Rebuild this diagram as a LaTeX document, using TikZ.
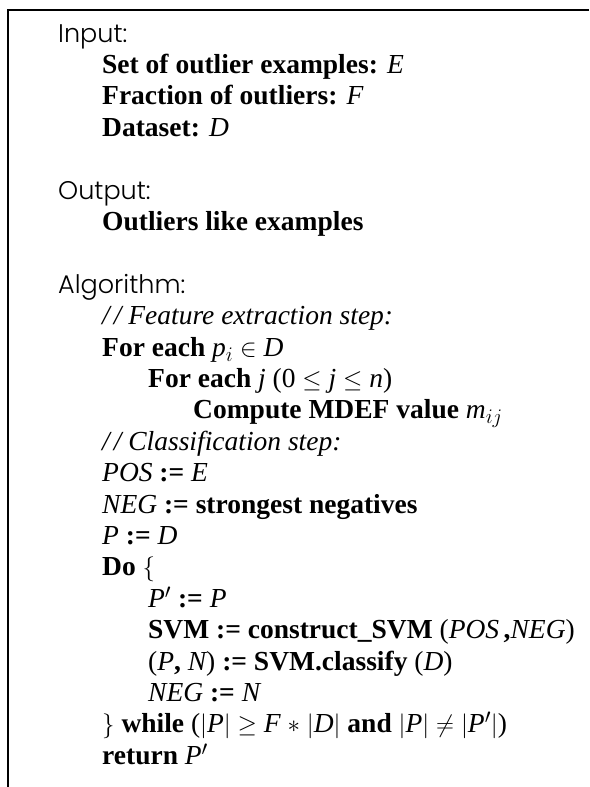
\documentclass[tikz,border=0pt]{standalone}
\usepackage{amsmath,amssymb}
\usepackage{fontspec}
\setmainfont{Liberation Serif}
\newfontfamily\hdfont{Poppins}[UprightFont=* Light]
\usetikzlibrary{positioning}

% variables in the pseudocode
\newcommand{\var}[1]{{\normalfont\itshape #1}}
\newcommand{\nrm}[1]{{\normalfont #1}}

\begin{document}
\begin{tikzpicture}[x=1pt,y=1pt,
                hd/.style={anchor=base west,inner sep=0pt,font=\hdfont\fontsize{25.5}{28}\selectfont},
                ln/.style={anchor=base west,inner sep=0pt,font=\fontsize{27.5}{30}\selectfont\bfseries},
                rem/.style={ln,font=\fontsize{27.5}{30}\selectfont\itshape}]
                \useasboundingbox (0,0) rectangle (589,-787);
                % frame, only top and left edge
                \draw[line width=2.4pt] (589,-10) -- (8,-10) -- (8,-787);
                % input
                \node[hd] (input) at (58,-42) {Input:};
                \node[ln] (set) at (102,-73.4) {Set of outlier examples: \var{E}};
                \node[ln] (frac) at (102,-104.8) {Fraction of outliers: \var{F}};
                \node[ln] (data) at (102,-136.2) {Dataset: \var{D}};
                % output
                \node[hd] (output) at (58,-199) {Output:};
                \node[ln] (like) at (102,-230.4) {Outliers like examples};
                % algorithm
                \node[hd] (algo) at (58,-293.2) {Algorithm:};
                \node[rem] (feat) at (102,-324.6) {/\kern4pt/ Feature extraction step:};
                \node[ln] (fori) at (102,-356) {For each \var{p}$_i\in$ \var{D}};
                \node[ln] (forj) at (148,-387.4) {For each \var{j} \nrm{(0} $\le$ \var{j} $\le$ \var{n}\nrm{)}};
                \node[ln] (mdef) at (193,-418.8) {Compute MDEF value \var{m}$_{ij}$};
                \node[rem] (clas) at (102,-450.2) {/\kern4pt/ Classification step:};
                \node[ln] (pos) at (102,-481.6) {\var{POS} := \var{E}};
                \node[ln] (neg) at (102,-513) {\var{NEG} := strongest negatives};
                \node[ln] (p) at (102,-544.4) {\var{P} := \var{D}};
                \node[ln] (do) at (102,-575.8) {Do $\{$};
                \node[ln] (pp) at (148,-607.2) {\var{P}$'$ := \var{P}};
                \node[ln] (svm) at (148,-638.6) {SVM := construct\_SVM \nrm{(}\var{POS}\,,\var{NEG}\nrm{)}};
                \node[ln] (cls) at (148,-670) {\nrm{(}\var{P}, \var{N}\nrm{)} := SVM.classify \nrm{(}\var{D}\nrm{)}};
                \node[ln] (negn) at (148,-701.4) {\var{NEG} := \var{N}};
                \node[ln] (while) at (102,-732.8) {$\}$ while \nrm{(}$|$\var{P}$|\ge$ \var{F} $*$ $|$\var{D}$|$ and $|$\var{P}$|\neq|$\var{P}$'|$\nrm{)}};
                \node[ln] (ret) at (102,-764.2) {return \var{P}$'$};
\end{tikzpicture}
\end{document}
